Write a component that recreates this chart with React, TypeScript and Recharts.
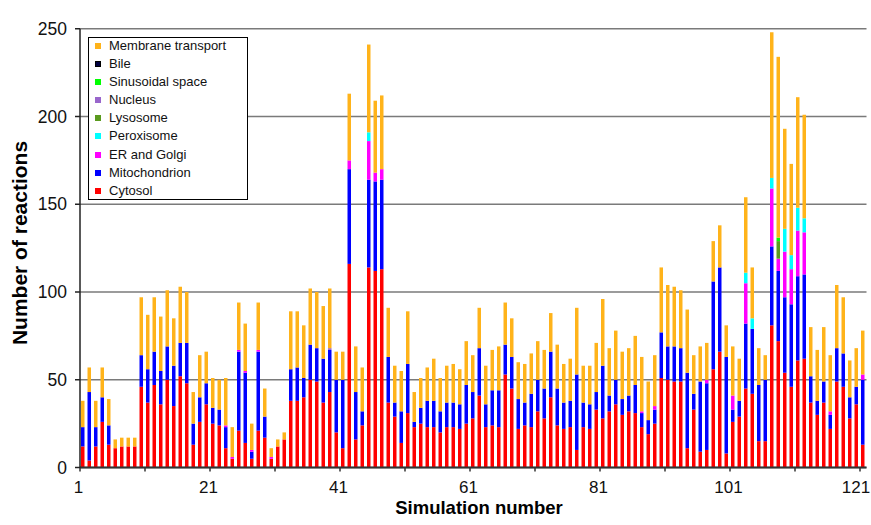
import React from 'react';
import { BarChart, Bar, XAxis, YAxis, CartesianGrid, Legend, Label } from 'recharts';

// Reactions per compartment for each of the 121 simulations
const cytosol = [
  12, 4, 12, 26, 13, 11, 12, 12, 12, 46,
  37, 47, 36, 50, 35, 52, 48, 13, 26, 36,
  25, 24, 11, 5, 21, 14, 5, 21, 17, 5,
  12, 16, 38, 38, 40, 50, 49, 37, 43, 20,
  11, 116, 16, 24, 114, 112, 113, 37, 29, 14,
  31, 23, 25, 23, 23, 20, 23, 23, 22, 25,
  28, 41, 23, 24, 23, 53, 45, 22, 24, 23,
  32, 28, 40, 24, 22, 23, 10, 23, 22, 33,
  28, 32, 36, 30, 32, 31, 23, 19, 25, 51,
  50, 49, 49, 11, 33, 9, 10, 56, 66, 8,
  26, 29, 45, 42, 15, 15, 81, 72, 54, 46,
  61, 62, 37, 30, 37, 22, 49, 46, 28, 36, 13,
];

const mitochondrion = [
  11, 39, 11, 14, 11, 0, 0, 0, 0, 18,
  19, 19, 19, 19, 23, 19, 23, 12, 14, 12,
  9, 9, 12, 0, 45, 40, 4, 45, 12, 0,
  0, 0, 18, 19, 11, 20, 19, 25, 24, 30,
  39, 54, 27, 8, 50, 51, 51, 26, 8, 18,
  28, 3, 9, 15, 15, 12, 14, 14, 14, 22,
  15, 27, 13, 20, 21, 17, 18, 17, 13, 19,
  18, 17, 26, 21, 15, 15, 43, 14, 14, 10,
  30, 9, 14, 9, 9, 16, 8, 8, 8, 26,
  19, 20, 19, 43, 9, 40, 38, 50, 48, 55,
  7, 9, 37, 37, 32, 35, 45, 40, 43, 47,
  48, 48, 15, 8, 12, 8, 19, 19, 12, 10, 37,
];

const erGolgi = [
  0, 0, 0, 0, 0, 0, 0, 0, 0, 0,
  0, 0, 0, 0, 0, 0, 0, 0, 0, 0,
  0, 0, 1, 1, 1, 1, 1, 1, 0, 1,
  0, 0, 0, 0, 0, 0, 0, 0, 0, 0,
  0, 5, 0, 0, 22, 5, 6, 0, 0, 0,
  0, 0, 0, 0, 0, 0, 0, 0, 0, 0,
  0, 0, 0, 0, 0, 0, 0, 0, 0, 0,
  0, 0, 0, 0, 0, 0, 0, 0, 0, 0,
  0, 0, 0, 0, 0, 0, 1, 0, 2, 0,
  0, 0, 0, 0, 0, 0, 2, 0, 0, 0,
  8, 0, 23, 0, 0, 0, 33, 7, 26, 20,
  26, 24, 0, 0, 0, 2, 0, 0, 0, 0, 3,
];

const peroxisome = [
  0, 0, 0, 0, 0, 0, 0, 0, 0, 0,
  0, 0, 0, 0, 0, 0, 0, 0, 0, 0,
  0, 0, 0, 0, 0, 0, 0, 0, 0, 0,
  0, 0, 0, 0, 0, 0, 0, 0, 0, 0,
  0, 0, 0, 0, 5, 0, 0, 0, 0, 0,
  0, 0, 0, 0, 0, 0, 0, 0, 0, 0,
  0, 0, 0, 0, 0, 0, 0, 0, 0, 0,
  0, 0, 0, 0, 0, 0, 0, 0, 0, 0,
  0, 0, 0, 0, 0, 0, 0, 0, 0, 0,
  0, 0, 0, 0, 0, 0, 0, 0, 0, 0,
  0, 0, 6, 6, 0, 0, 6, 0, 13, 8,
  13, 8, 0, 0, 0, 0, 0, 0, 0, 0, 0,
];

const lysosome = [
  0, 0, 0, 0, 0, 0, 0, 0, 0, 0,
  0, 0, 0, 0, 0, 0, 0, 0, 0, 0,
  0, 0, 0, 0, 0, 0, 0, 0, 0, 0,
  0, 0, 0, 0, 0, 0, 0, 0, 0, 0,
  0, 0, 0, 0, 0, 0, 0, 0, 0, 0,
  0, 0, 0, 0, 0, 0, 0, 0, 0, 0,
  0, 0, 0, 0, 0, 0, 0, 0, 0, 0,
  0, 0, 0, 0, 0, 0, 0, 0, 0, 0,
  0, 0, 0, 0, 0, 0, 0, 0, 0, 0,
  0, 0, 0, 0, 0, 0, 0, 0, 0, 0,
  0, 0, 0, 0, 0, 0, 0, 10, 0, 0,
  0, 0, 0, 0, 0, 0, 0, 0, 0, 0, 0,
];

const nucleus = [
  0, 0, 0, 0, 0, 0, 0, 0, 0, 0,
  0, 0, 0, 0, 0, 0, 0, 0, 0, 0,
  0, 0, 0, 0, 0, 0, 0, 0, 0, 0,
  0, 0, 0, 0, 0, 0, 0, 0, 1, 0,
  0, 0, 0, 0, 0, 0, 0, 0, 0, 0,
  0, 0, 0, 0, 0, 0, 0, 0, 0, 0,
  0, 0, 0, 0, 0, 0, 0, 0, 0, 0,
  0, 0, 0, 0, 0, 0, 0, 0, 0, 0,
  0, 0, 0, 0, 0, 0, 0, 0, 0, 0,
  0, 0, 0, 0, 0, 0, 0, 0, 0, 0,
  0, 0, 0, 0, 0, 0, 0, 0, 0, 0,
  0, 0, 0, 0, 0, 0, 0, 0, 0, 0, 0,
];

const sinusoidalSpace = [
  0, 0, 0, 0, 0, 0, 0, 0, 0, 0,
  0, 0, 0, 0, 0, 0, 0, 0, 0, 0,
  0, 0, 0, 0, 0, 0, 0, 0, 0, 0,
  0, 0, 0, 0, 0, 0, 0, 0, 0, 0,
  0, 0, 0, 0, 0, 0, 0, 0, 0, 0,
  0, 0, 0, 0, 0, 0, 0, 0, 0, 0,
  0, 0, 0, 0, 0, 0, 0, 0, 0, 0,
  0, 0, 0, 0, 0, 0, 0, 0, 0, 0,
  0, 0, 0, 0, 0, 0, 0, 0, 0, 0,
  0, 0, 0, 0, 0, 0, 0, 0, 0, 0,
  0, 0, 0, 0, 0, 0, 0, 2, 0, 0,
  0, 0, 0, 0, 0, 0, 0, 0, 0, 0, 0,
];

const bile = [
  0, 0, 0, 0, 0, 0, 0, 0, 0, 0,
  0, 0, 0, 0, 0, 0, 0, 0, 0, 0,
  0, 0, 0, 0, 0, 0, 0, 0, 0, 0,
  0, 0, 0, 0, 0, 0, 0, 0, 0, 0,
  0, 0, 0, 0, 0, 0, 0, 0, 0, 0,
  0, 0, 0, 0, 0, 0, 0, 0, 0, 0,
  0, 0, 0, 0, 0, 0, 0, 0, 0, 0,
  0, 0, 0, 0, 0, 0, 0, 0, 0, 0,
  0, 0, 0, 0, 0, 0, 0, 0, 0, 0,
  0, 0, 0, 0, 0, 0, 0, 0, 0, 0,
  0, 0, 0, 0, 0, 0, 0, 0, 0, 0,
  0, 0, 0, 0, 0, 0, 0, 0, 0, 0, 0,
];

const membraneTransport = [
  15, 14, 15, 17, 15, 5, 5, 5, 5, 33,
  31, 31, 31, 32, 27, 32, 29, 18, 24, 18,
  17, 17, 27, 17, 27, 27, 15, 27, 16, 5,
  4, 4, 33, 32, 30, 32, 32, 30, 34, 16,
  16, 38, 26, 25, 50, 41, 42, 28, 21, 23,
  30, 17, 17, 19, 24, 19, 21, 22, 20, 25,
  21, 23, 22, 23, 25, 24, 22, 21, 22, 23,
  22, 22, 22, 25, 22, 24, 38, 21, 22, 28,
  38, 27, 28, 27, 27, 28, 31, 22, 29, 37,
  35, 34, 33, 36, 22, 20, 21, 23, 24, 18,
  28, 24, 43, 29, 21, 14, 83, 103, 57, 52,
  63, 59, 28, 29, 31, 32, 36, 32, 21, 22, 25,
];

// Axis ticks: category boundaries every 10 simulations, labelled every 20
const xTickPositions = [0.5, 10.5, 20.5, 30.5, 40.5, 50.5, 60.5, 70.5, 80.5, 90.5, 100.5, 110.5, 120.5];
const xTickLabels = ['1', '', '21', '', '41', '', '61', '', '81', '', '101', '', '121'];
const yTicks = [0, 50, 100, 150, 200, 250];

// Series: stacking order bottom -> top
const series = [
  { key: 'cytosol', name: 'Cytosol', color: '#FF0000', values: cytosol },
  { key: 'mitochondrion', name: 'Mitochondrion', color: '#0000FF', values: mitochondrion },
  { key: 'erGolgi', name: 'ER and Golgi', color: '#FF00FF', values: erGolgi },
  { key: 'peroxisome', name: 'Peroxisome', color: '#00FFFF', values: peroxisome },
  { key: 'lysosome', name: 'Lysosome', color: '#5A9A1E', values: lysosome },
  { key: 'nucleus', name: 'Nucleus', color: '#9966CC', values: nucleus },
  { key: 'sinusoidal', name: 'Sinusoidal space', color: '#00FF00', values: sinusoidalSpace },
  { key: 'bile', name: 'Bile', color: '#000040', values: bile },
  { key: 'membrane', name: 'Membrane transport', color: '#FFB31A', values: membraneTransport },
];

const data = cytosol.map((_, i) => {
  const row: Record<string, number> = { sim: i + 1 };
  series.forEach((s) => {
    row[s.key] = s.values[i];
  });
  return row;
});

const FONT = 'Liberation Sans, Arial, Helvetica, sans-serif';

const renderLegend = () => {
  const items = [...series].reverse();
  return (
    <div
      style={{
        boxSizing: 'border-box',
        width: 160,
        height: 163,
        border: '1px solid #000',
        background: '#fff',
        fontFamily: FONT,
        fontSize: 13,
        color: '#111',
      }}
    >
      {items.map((s) => (
        <div
          key={s.key}
          style={{ position: 'relative', height: 18.1, lineHeight: '18.1px', marginTop: 0 }}
        >
          <span
            style={{
              position: 'absolute',
              left: 6,
              top: 5,
              width: 6,
              height: 6,
              boxSizing: 'border-box',
              background: s.color,
              border: s.key === 'bile' ? '1px solid #000' : 'none',
            }}
          />
          <span style={{ position: 'absolute', left: 20, top: -1, whiteSpace: 'nowrap' }}>{s.name}</span>
        </div>
      ))}
    </div>
  );
};

const XTick = (props: any) => {
  const { x, y, payload, index } = props;
  const label = xTickLabels[index] ?? '';
  if (!label) return null;
  const shift = index === xTickLabels.length - 1 ? -4 : -1.5;
  return (
    <text
      x={x + shift}
      y={y}
      dy="0.71em"
      textAnchor="middle"
      fontFamily={FONT}
      fontSize={17}
      fill="#111"
    >
      {label}
    </text>
  );
};

const YTitle = () => (
  <text
    x={19}
    y={243}
    transform="rotate(-90 19 243)"
    textAnchor="middle"
    dominantBaseline="central"
    fontFamily={FONT}
    fontWeight="bold"
    fontSize={21}
    fill="#000"
  >
    Number of reactions
  </text>
);

const XTitle = () => (
  <text
    x={479}
    y={514}
    textAnchor="middle"
    fontFamily={FONT}
    fontWeight="bold"
    fontSize={18.5}
    fill="#000"
  >
    Simulation number
  </text>
);

export default function App() {
  return (
    <div style={{ position: 'absolute', left: 0, top: 0, width: 871, height: 525, background: '#fff' }}>
      <BarChart
        width={871}
        height={525}
        data={data}
        margin={{ top: 28.75, right: 4.5, left: 0, bottom: 27.5 }}
        barSize={3.5}
      >
        <CartesianGrid vertical={false} stroke="#7a7a7a" strokeWidth={1.5} />
        <XAxis
          type="number"
          dataKey="sim"
          domain={[0.5, 121.5]}
          ticks={xTickPositions}
          interval={0}
          height={30}
          tickSize={4}
          tickMargin={9.5}
          tick={<XTick />}
          axisLine={{ stroke: '#333', strokeWidth: 2 }}
          tickLine={{ stroke: '#333', strokeWidth: 1.5 }}
        >
          <Label content={<XTitle />} />
        </XAxis>
        <YAxis
          type="number"
          domain={[0, 250]}
          ticks={yTicks}
          interval={0}
          width={80}
          tickSize={5}
          tickMargin={8}
          tick={{ fontFamily: FONT, fontSize: 17.5, fill: '#111' }}
          axisLine={{ stroke: '#222', strokeWidth: 1.5 }}
          tickLine={{ stroke: '#222', strokeWidth: 1.5 }}
        >
          <Label content={<YTitle />} />
        </YAxis>
        <Legend
          layout="vertical"
          align="center"
          verticalAlign="middle"
          content={renderLegend}
          wrapperStyle={{ position: 'absolute', left: 88, top: 37, width: 160, height: 163 }}
        />
        {series.map((s) => (
          <Bar
            key={s.key}
            dataKey={s.key}
            name={s.name}
            stackId="a"
            fill={s.color}
            isAnimationActive={false}
          />
        ))}
      </BarChart>
    </div>
  );
}
